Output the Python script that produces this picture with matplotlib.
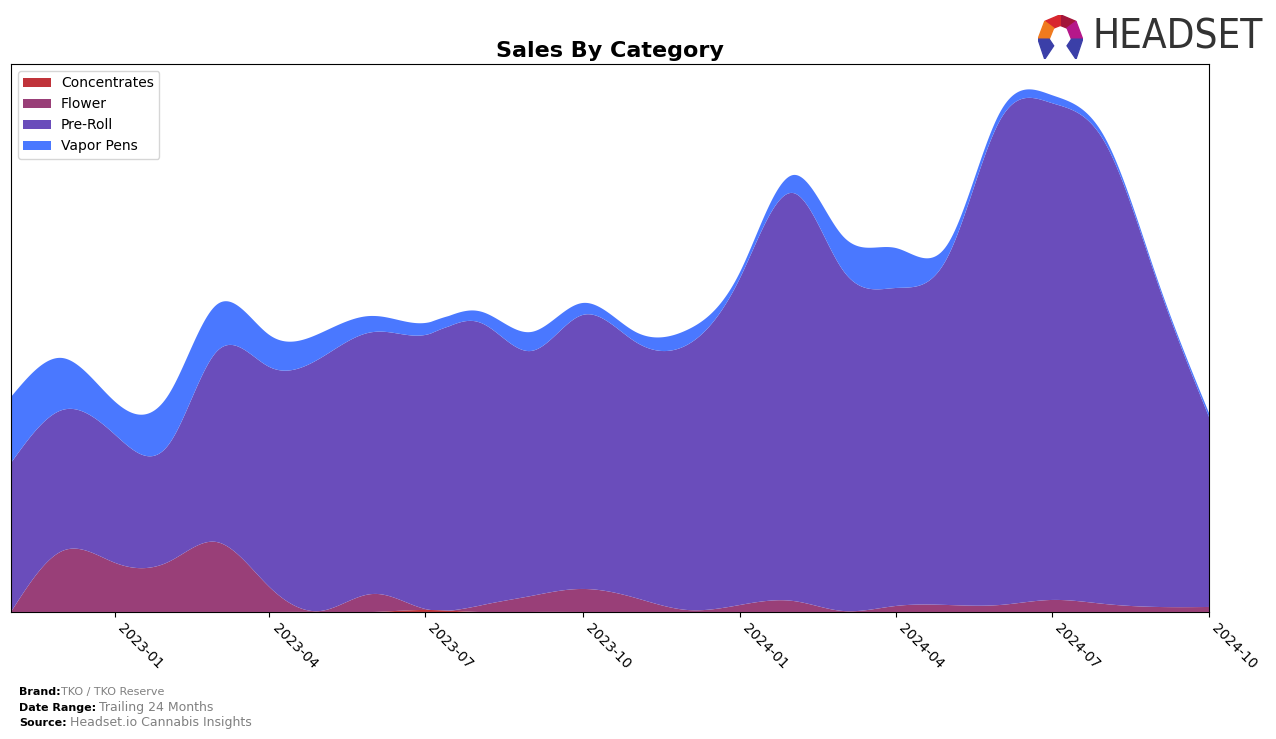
"""
Sales By Category - stacked, smoothed area chart (TKO / TKO Reserve)
"""
import numpy as np
import pandas as pd
import matplotlib
matplotlib.use('Agg')
import matplotlib.pyplot as plt
import matplotlib.dates as mdates
from matplotlib.patches import Polygon

# Monthly data, Nov 2022 - Oct 2024 (relative sales units)
months = pd.date_range('2022-11-01', '2024-10-01', freq='MS')
categories = ['Concentrates', 'Flower', 'Pre-Roll', 'Vapor Pens']
concentrates = [0, 0, 0, 0, 0, 0, 0, 0, 2, 0, 0, 0,
                0, 0, 0, 0, 0, 0, 0, 0, 0, 0, 0, 0]
flower = [0, 61, 49, 50, 70, 25, 1, 18, 1, 6, 16, 23,
          14, 2, 7, 11, 1, 6, 7, 7, 12, 8, 5, 5]
pre_roll = [149, 141, 128, 117, 190, 220, 253, 262, 274, 284, 245, 274,
            256, 265, 327, 408, 341, 318, 347, 485, 497, 462, 324, 190]
vapor_pens = [66, 52, 33, 50, 47, 32, 25, 16, 12, 11, 19, 12,
              10, 15, 6, 18, 34, 40, 13, 8, 8, 5, 3, 4]
colors = ['#C0333A', '#993F78', '#6A4DBB', '#4A78FF']


def natural_spline(x, y, xs):
    """Natural cubic spline through (x, y), evaluated at xs."""
    x = np.asarray(x, float)
    y = np.asarray(y, float)
    n = len(x)
    h = np.diff(x)
    A = np.zeros((n, n))
    b = np.zeros(n)
    A[0, 0] = A[-1, -1] = 1
    for i in range(1, n - 1):
        A[i, i - 1] = h[i - 1]
        A[i, i] = 2 * (h[i - 1] + h[i])
        A[i, i + 1] = h[i]
        b[i] = 3 * ((y[i + 1] - y[i]) / h[i] - (y[i] - y[i - 1]) / h[i - 1])
    c = np.linalg.solve(A, b)
    idx = np.clip(np.searchsorted(x, xs) - 1, 0, n - 2)
    dx = xs - x[idx]
    bb = (y[idx + 1] - y[idx]) / h[idx] - h[idx] * (2 * c[idx] + c[idx + 1]) / 3
    d = (c[idx + 1] - c[idx]) / (3 * h[idx])
    return y[idx] + bb * dx + c[idx] * dx ** 2 + d * dx ** 3


xnum = mdates.date2num(months)
xs = np.linspace(xnum[0], xnum[-1], 600)
series = [concentrates, flower, pre_roll, vapor_pens]
smooth = [np.clip(natural_spline(xnum, s, xs), 0, None) for s in series]

fig = plt.figure(figsize=(12.76, 7.39), dpi=100)
ax = fig.add_axes([0.0086, 0.1719, 0.9389, 0.7415])
ax.stackplot(mdates.num2date(xs), *smooth, labels=categories, colors=colors)

ax.set_xlim(months[0], months[-1])
ax.set_ylim(0, 548)
ax.set_yticks([])
ax.xaxis.set_major_locator(mdates.MonthLocator(bymonth=[1, 4, 7, 10]))
ax.xaxis.set_major_formatter(mdates.DateFormatter('%Y-%m'))
plt.setp(ax.get_xticklabels(), rotation=-45, ha='left', fontsize=10)
ax.set_title('Sales By Category', fontsize=16, fontweight='bold', pad=5)
ax.legend(loc='upper left', fontsize=10, borderaxespad=0.5, handletextpad=0.7)

# Footer
fig.text(0.015, 0.059, 'Brand:', fontsize=8, fontweight='bold')
fig.text(0.048, 0.059, 'TKO / TKO Reserve', fontsize=8, color='gray')
fig.text(0.015, 0.038, 'Date Range:', fontsize=8, fontweight='bold')
fig.text(0.0775, 0.038, 'Trailing 24 Months', fontsize=9, color='gray')
fig.text(0.015, 0.017, 'Source:', fontsize=8, fontweight='bold')
fig.text(0.055, 0.017, 'Headset.io Cannabis Insights', fontsize=9, color='gray')

# Logo
fig.text(0.856, 0.949, 'HEADSET', fontsize=29, color='#333333',
         va='center', ha='left', fontstretch='condensed')
logo = fig.add_axes([0.8135, 0.920, 0.035, 0.060])
logo.set_xlim(0, 1)
logo.set_ylim(0, 1)
logo.axis('off')
pieces = [
    ([(0.5, 1.0), (0.85, 0.85), (0.65, 0.7), (0.5, 0.76)], '#A3153A'),
    ([(0.5, 1.0), (0.15, 0.85), (0.35, 0.7), (0.5, 0.76)], '#D8262E'),
    ([(0.85, 0.85), (1.0, 0.45), (0.75, 0.45), (0.65, 0.7)], '#B5178A'),
    ([(0.15, 0.85), (0.0, 0.45), (0.25, 0.45), (0.35, 0.7)], '#F07A1E'),
    ([(0.0, 0.45), (0.25, 0.45), (0.35, 0.3), (0.15, 0.0)], '#3B3FA8'),
    ([(1.0, 0.45), (0.75, 0.45), (0.65, 0.3), (0.85, 0.0)], '#3B3FA8'),
]
for pts, col in pieces:
    logo.add_patch(Polygon(pts, closed=True, color=col))

fig.savefig('out.png', dpi=100)
